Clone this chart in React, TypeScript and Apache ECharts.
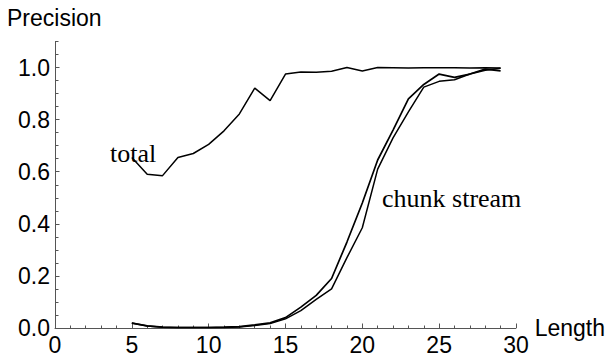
import React, { useEffect, useRef } from "react";
import * as echarts from "echarts";

const lengths = [5, 6, 7, 8, 9, 10, 11, 12, 13, 14, 15, 16, 17, 18, 19, 20, 21, 22, 23, 24, 25, 26, 27, 28, 29];
const total = [0.655, 0.59, 0.585, 0.655, 0.67, 0.705, 0.757, 0.822, 0.921, 0.873, 0.975, 0.983, 0.982, 0.986, 1.0, 0.987, 1.0, 0.999, 0.998, 0.999, 0.999, 0.999, 0.998, 0.999, 0.998];
const chunk = [0.019, 0.008, 0.003, 0.002, 0.002, 0.002, 0.003, 0.005, 0.012, 0.02, 0.04, 0.08, 0.125, 0.19, 0.33, 0.48, 0.645, 0.76, 0.88, 0.935, 0.975, 0.962, 0.975, 0.994, 0.987];
const stream = [0.019, 0.008, 0.003, 0.002, 0.002, 0.002, 0.002, 0.004, 0.01, 0.017, 0.035, 0.067, 0.11, 0.15, 0.27, 0.385, 0.61, 0.73, 0.83, 0.925, 0.947, 0.953, 0.975, 0.99, 0.997];
const xTicks = [0, 5, 10, 15, 20, 25, 30];
const yTicks = [0.0, 0.2, 0.4, 0.6, 0.8, 1.0];

const pairs = (ys: number[]) => lengths.map((x, i) => [x, ys[i]]);

export default function App() {
  const ref = useRef<HTMLDivElement>(null);
  useEffect(() => {
    if (!ref.current) return;
    const chart = echarts.init(ref.current, null, { renderer: "svg" });
    const axisColor = "#555";
    const sans = "'Liberation Sans', Arial, sans-serif";
    const serif = "'Liberation Serif', 'Times New Roman', serif";
    chart.setOption({
      animation: false,
      backgroundColor: "#fff",
      grid: { left: 55, right: 87, top: 41.5, bottom: 26.7 },
      xAxis: {
        type: "value",
        min: xTicks[0],
        max: xTicks[xTicks.length - 1],
        interval: 5,
        name: "Length",
        nameLocation: "end",
        nameGap: 13,
        nameTextStyle: { fontFamily: sans, fontSize: 23, color: "#000", verticalAlign: "middle" },
        axisLine: { show: true, lineStyle: { color: axisColor, width: 1 } },
        axisTick: { show: true, inside: true, length: 4.5, lineStyle: { color: axisColor } },
        minorTick: { show: true, splitNumber: 5, length: 2.5, lineStyle: { color: axisColor } },
        axisLabel: { fontFamily: sans, fontSize: 23, color: "#000", margin: 5 },
        splitLine: { show: false },
      },
      yAxis: [
        {
          type: "value",
          min: 0,
          max: 1.1,
          interval: 0.2,
          axisLine: { show: true, lineStyle: { color: axisColor, width: 1 } },
          axisTick: { show: true, inside: true, length: 4.5, lineStyle: { color: axisColor } },
          axisLabel: {
            fontFamily: sans,
            fontSize: 23,
            color: "#000",
            margin: 5,
            showMaxLabel: false,
            formatter: (v: number) => (yTicks.some((t) => Math.abs(t - v) < 1e-6) ? v.toFixed(1) : ""),
          },
          splitLine: { show: false },
        },
        {
          type: "value",
          position: "left",
          min: 0,
          max: 1.1,
          interval: 0.05,
          axisLine: { show: false },
          axisTick: { show: true, inside: true, length: 3.5, lineStyle: { color: axisColor } },
          axisLabel: { show: false },
          splitLine: { show: false },
        },
      ],
      series: [
        { type: "line", name: "total", data: pairs(total), showSymbol: false, lineStyle: { color: "#000", width: 1.5 } },
        { type: "line", name: "chunk", data: pairs(chunk), showSymbol: false, lineStyle: { color: "#000", width: 1.7 } },
        { type: "line", name: "stream", data: pairs(stream), showSymbol: false, lineStyle: { color: "#000", width: 1.5 } },
      ],
      graphic: [
        { type: "text", left: 7, top: 6, style: { text: "Precision", fontFamily: sans, fontSize: 23, fill: "#000" } },
        { type: "text", x: 110, y: 140, z: 10, style: { text: "total", fontFamily: serif, fontSize: 26, fill: "#000" } },
        { type: "text", x: 382, y: 185, z: 10, style: { text: "chunk stream", fontFamily: serif, fontSize: 26, fill: "#000" } },
      ],
    });
    return () => chart.dispose();
  }, []);
  return <div ref={ref} style={{ position: "fixed", left: 0, top: 0, width: 608, height: 356 }} />;
}
